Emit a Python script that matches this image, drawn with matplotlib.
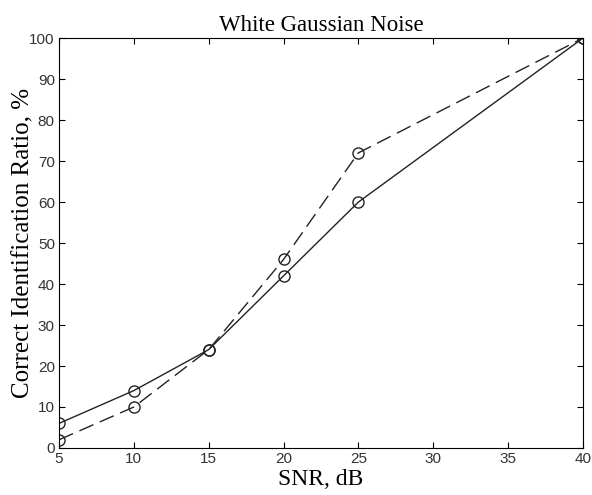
import matplotlib
matplotlib.use("Agg")
import matplotlib.pyplot as plt

SNR_DB = [5, 10, 15, 20, 25, 40]
RATIO_SOLID = [6, 14, 24, 42, 60, 100]
RATIO_DASHED = [2, 10, 24, 46, 72, 100]

X_TICKS = [5, 10, 15, 20, 25, 30, 35, 40]
Y_TICKS = list(range(0, 101, 10))


def main():
    fig = plt.figure(figsize=(5.92, 4.95), dpi=100)
    ax = fig.add_axes([0.0997, 0.095, 0.885, 0.828])

    ax.plot(SNR_DB, RATIO_SOLID, color="#222222", linewidth=1.0,
            marker="o", markersize=8, markerfacecolor="none", markeredgewidth=1.0)
    ax.plot(SNR_DB, RATIO_DASHED, color="#222222", linewidth=1.0, linestyle=(0, (11, 5)),
            marker="o", markersize=8, markerfacecolor="none", markeredgewidth=1.0)

    ax.set_xlim(5, 40)
    ax.set_ylim(0, 100)
    ax.set_xticks(X_TICKS)
    ax.set_yticks(Y_TICKS)
    ax.tick_params(direction="in", length=4, labelsize=11, labelcolor="#333333",
                   top=True, right=True, labeltop=False, labelright=False, pad=3)
    for lab in ax.get_xticklabels() + ax.get_yticklabels():
        lab.set_family("Liberation Sans")

    ax.set_xlabel("SNR, dB", family="Liberation Serif", fontsize=17, labelpad=2)
    ax.set_ylabel("Correct Identification Ratio, %", family="Liberation Serif",
                  fontsize=18, labelpad=-4)
    ax.set_title("White Gaussian Noise", family="Liberation Serif", fontsize=16.5, pad=5)

    fig.savefig("out.png", dpi=100)
    plt.close(fig)


if __name__ == "__main__":
    main()
